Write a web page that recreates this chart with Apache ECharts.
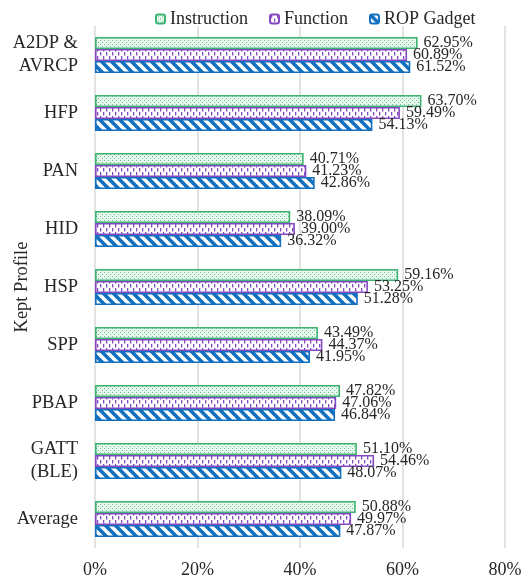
<!DOCTYPE html>
<html><head><meta charset="utf-8">
<script src="https://cdn.jsdelivr.net/npm/echarts@6/dist/echarts.min.js"></script>
<style>html,body{margin:0;padding:0;background:#fff}#c{width:532px;height:582px}</style>
</head><body><div id="c"></div>
<script>
const categories = ['A2DP &\nAVRCP','HFP','PAN','HID','HSP','SPP','PBAP','GATT\n(BLE)','Average'];
const seriesNames = ['Instruction','Function','ROP Gadget'];
const instruction = [62.95,63.70,40.71,38.09,59.16,43.49,47.82,51.10,50.88];
const functionVals = [60.89,59.49,41.23,39.00,53.25,44.37,47.06,54.46,49.97];
const ropGadget = [61.52,54.13,42.86,36.32,51.28,41.95,46.84,48.07,47.87];
const xTicks = [0,20,40,60,80];

function mk(w,h,draw){const c=document.createElement('canvas');c.width=w;c.height=h;const g=c.getContext('2d');draw(g);return c;}
const greenPat = mk(4,4,g=>{g.fillStyle='#eaf7ef';g.fillRect(0,0,4,4);g.fillStyle='#62c690';g.fillRect(0,0,1,1);g.fillRect(2,2,1,1);});
const purplePat = mk(6,8,g=>{g.fillStyle='#fff';g.fillRect(0,0,6,8);g.fillStyle='#8448c0';g.fillRect(1,0,1.3,3.5);g.fillRect(4,4,1.3,3.5);});
const bluePat = mk(10,10,g=>{g.fillStyle='#fff';g.fillRect(0,0,10,10);g.strokeStyle='#1170c0';g.lineWidth=3.6;
  g.beginPath();g.moveTo(-3,-3);g.lineTo(13,13);g.moveTo(-3,7);g.lineTo(3,13);g.moveTo(7,-3);g.lineTo(13,3);g.stroke();});

const font = 'Liberation Serif';
function ser(name,data,pat,border){
  return {name,type:'bar',data,barWidth:12,barGap:'0%',
    itemStyle:{color:{image:pat,repeat:'repeat'},borderColor:border,borderWidth:1.6},
    label:{show:true,position:'right',distance:6,fontFamily:font,fontSize:16,color:'#262626',
      formatter:p=>p.value.toFixed(2)+'%'}};
}
const chart = echarts.init(document.getElementById('c'),null,{renderer:'canvas'});
chart.setOption({
  animation:false,
  textStyle:{fontFamily:font},
  legend:{top:5,left:150,itemWidth:9,itemHeight:9,itemGap:21,
    textStyle:{fontFamily:font,fontSize:18,color:'#262626'},data:seriesNames},
  grid:{left:95,right:27,top:26,bottom:34,containLabel:false,outerBoundsMode:'none'},
  xAxis:{type:'value',min:0,max:80,interval:20,
    axisLine:{show:false},axisTick:{show:false},
    splitLine:{lineStyle:{color:'#d9d9d9',width:1.5}},
    axisLabel:{fontFamily:font,fontSize:18,color:'#262626',margin:13,formatter:v=>v+'%'}},
  yAxis:{type:'category',data:categories,inverse:true,
    axisLine:{show:false},axisTick:{show:false},
    axisLabel:{fontFamily:font,fontSize:18.5,color:'#262626',margin:17,lineHeight:23},
    name:'Kept Profile',nameLocation:'middle',nameRotate:90,nameGap:63,nameMoveOverlap:false,
    nameTextStyle:{fontFamily:font,fontSize:18.5,color:'#262626'}},
  series:[ser(seriesNames[0],instruction,greenPat,'#3cb371'),
          ser(seriesNames[1],functionVals,purplePat,'#8448c0'),
          ser(seriesNames[2],ropGadget,bluePat,'#1170c0')]
});
</script></body></html>
